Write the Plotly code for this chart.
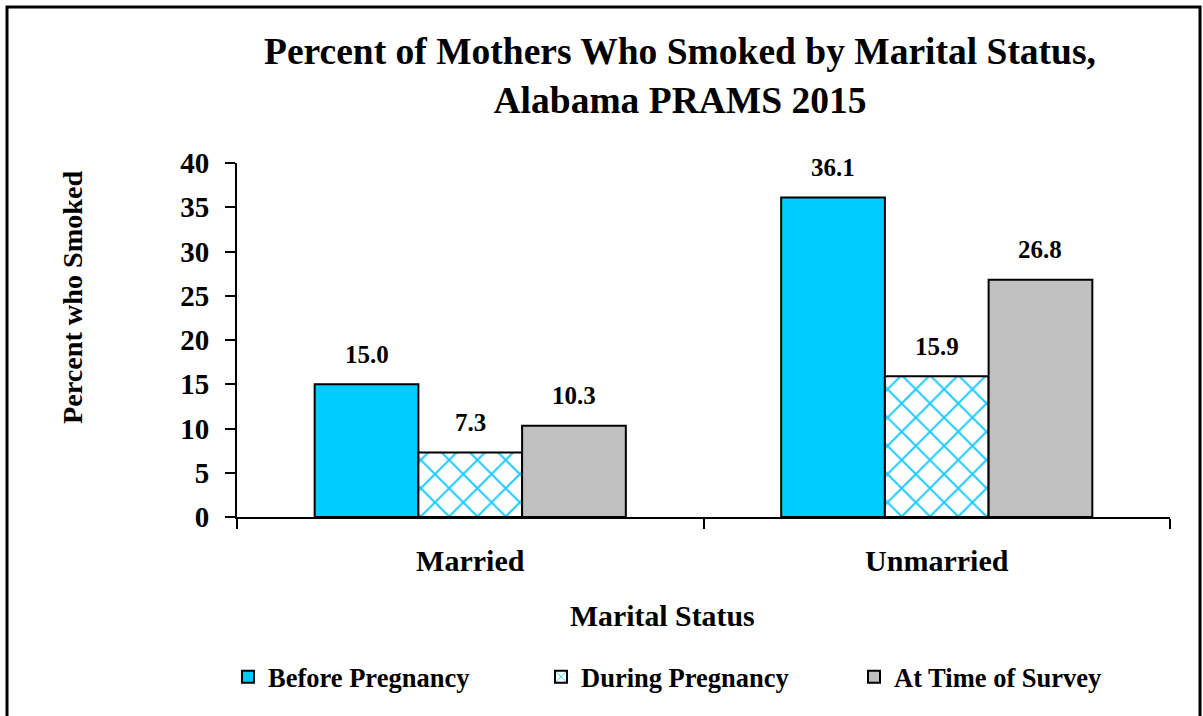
import plotly.graph_objects as go

categories = ["Married", "Unmarried"]
before = [15.0, 36.1]
during = [7.3, 15.9]
survey = [10.3, 26.8]
series_names = ["Before Pregnancy", "During Pregnancy", "At Time of Survey"]
y_ticks = [0, 5, 10, 15, 20, 25, 30, 35, 40]

FONT = "Liberation Serif"
W, H = 1203, 716
L, R, T, B = 237, 33, 163, 199
pw, ph = W - L - R, H - T - B

fig = go.Figure()
fig.add_trace(go.Bar(name=series_names[0], x=categories, y=before,
                     marker=dict(color="#00CCFF", line=dict(color="black", width=2))))
fig.add_trace(go.Bar(name=series_names[1], x=categories, y=during,
                     marker=dict(color="white", line=dict(color="black", width=2),
                                 pattern=dict(shape="x", fgcolor="#22CCFF", bgcolor="white",
                                              size=20, solidity=0.2, fillmode="replace"))))
fig.add_trace(go.Bar(name=series_names[2], x=categories, y=survey,
                     marker=dict(color="#C0C0C0", line=dict(color="black", width=2))))

group = 1 - 0.333
bw = group / 3
offsets = [-bw, 0, bw]
for s_i, vals in enumerate([before, during, survey]):
    for c_i, v in enumerate(vals):
        fig.add_annotation(x=c_i + offsets[s_i], y=v, text=f"<b>{v:.1f}</b>", showarrow=False,
                           yshift=30, font=dict(family=FONT, size=25, color="black"))

def px(x):
    return (x - L) / pw
def py(y):
    return (H - B - y) / ph

fig.add_shape(type="rect", xref="paper", yref="paper", x0=px(7), x1=px(1200), y0=py(730), y1=py(7),
              line=dict(color="black", width=3), fillcolor="rgba(0,0,0,0)", layer="below")

bold = dict(family=FONT, color="black", weight="bold")

# axis titles placed as annotations to match the reference position
fig.add_annotation(xref="paper", yref="paper", x=px(72), y=py(298), text="Percent who Smoked",
                   textangle=-90, showarrow=False, xanchor="center", yanchor="middle",
                   font=dict(bold, size=28.2))
fig.add_annotation(xref="paper", yref="paper", x=px(662), y=py(615), text="Marital Status",
                   showarrow=False, xanchor="center", yanchor="middle",
                   font=dict(bold, size=29.8))

fig.update_layout(
    width=W, height=H,
    margin=dict(l=L, r=R, t=T, b=B, autoexpand=False),
    paper_bgcolor="white", plot_bgcolor="white",
    barmode="group", bargap=0.333, bargroupgap=0,
    title=dict(text="<b>Percent of Mothers Who Smoked by Marital Status,<br>Alabama PRAMS 2015</b>",
               x=680 / W, xanchor="center", y=1 - 64 / H, yanchor="middle",
               font=dict(family=FONT, size=37.5, color="black")),
    font=dict(family=FONT, color="black"),
    showlegend=True,
    legend=dict(orientation="h", x=px(228), xanchor="left", y=py(677), yanchor="middle",
                font=dict(bold, size=26.5), traceorder="normal",
                itemsizing="constant", entrywidth=268, entrywidthmode="pixels"),
    xaxis=dict(type="category", showline=True, linecolor="black", linewidth=2,
               ticks="outside", tickson="boundaries", ticklen=10, tickcolor="black", tickwidth=2,
               tickfont=dict(bold, size=30), ticklabelstandoff=16),
    yaxis=dict(range=[0, 40], tickvals=y_ticks, showline=True, linecolor="black", linewidth=2,
               ticks="outside", ticklen=10, tickcolor="black", tickwidth=2, showgrid=False, zeroline=False,
               tickfont=dict(bold, size=29), ticklabelstandoff=10),
)

fig.write_html("out.html", config={"displayModeBar": False},
               post_script="document.body.style.margin='0';document.body.style.overflow='hidden';")
